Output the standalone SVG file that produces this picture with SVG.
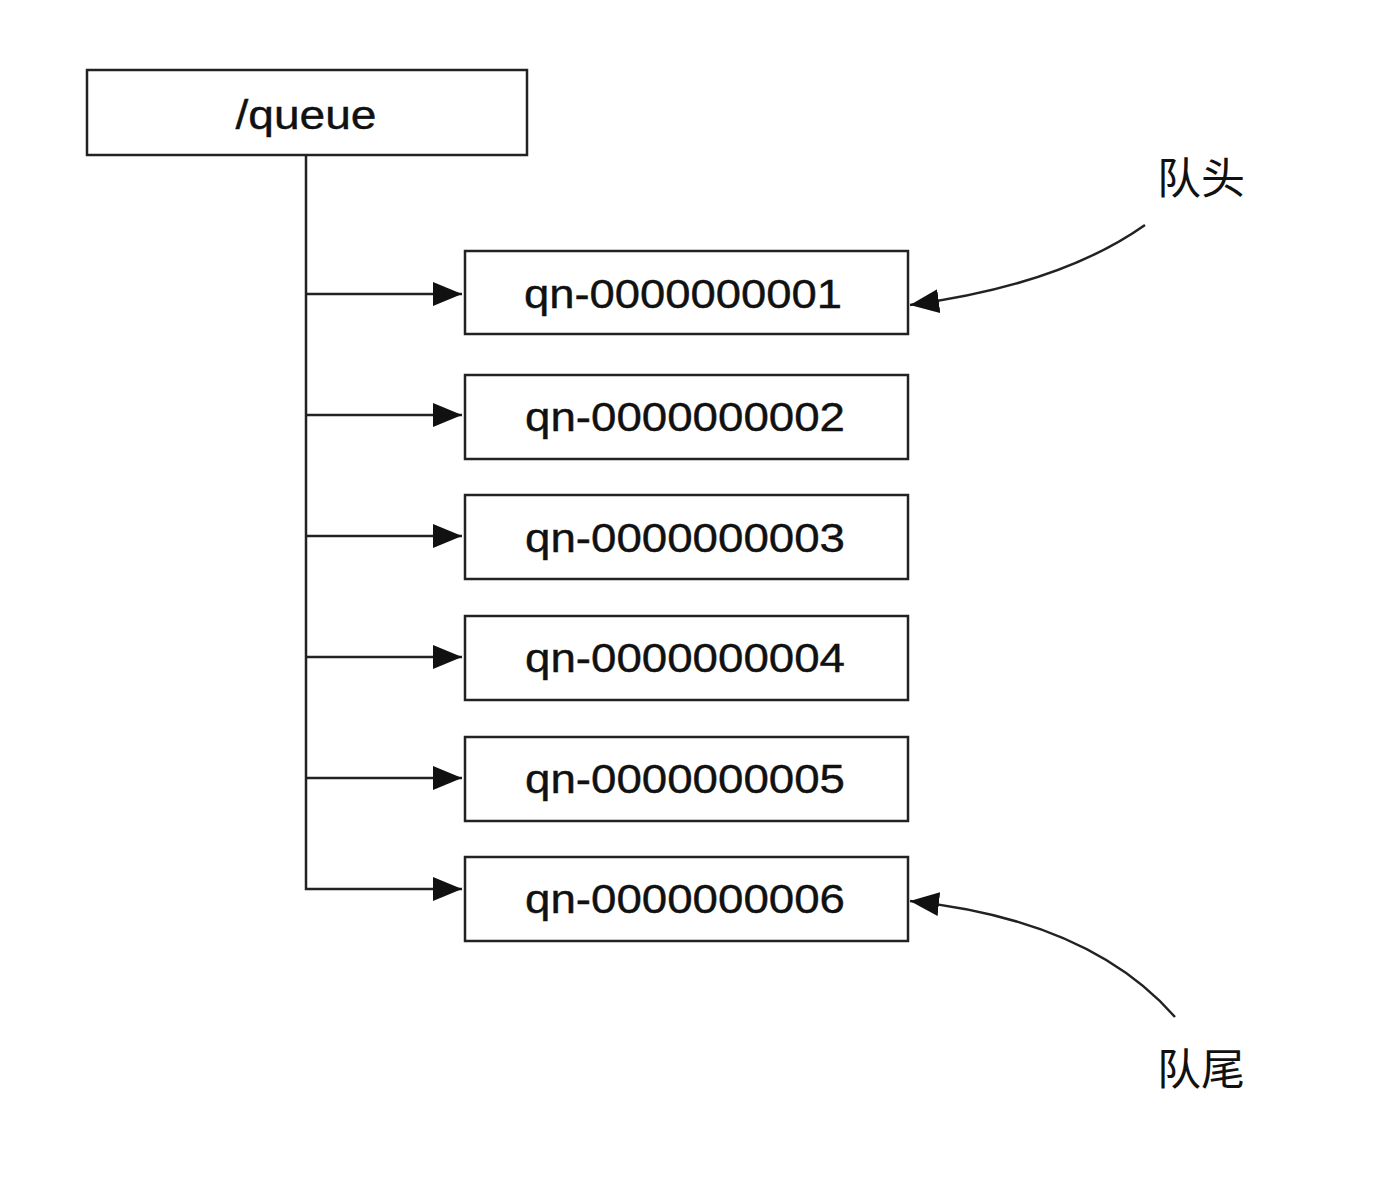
<svg xmlns="http://www.w3.org/2000/svg" width="1380" height="1180" viewBox="0 0 1380 1180">
  <style>
    .box { fill: #ffffff; stroke: #222222; stroke-width: 2.5; }
    .label { font-family: "Liberation Sans", Arial, sans-serif; font-size: 40px; fill: #111111; text-anchor: middle; stroke: #111111; stroke-width: 0.4; }
    .cjk { font-family: "Noto Sans CJK SC", "Liberation Sans", sans-serif; font-size: 43px; fill: #111111; }
    .wire { fill: none; stroke: #222222; stroke-width: 2.5; }
  </style>
  <defs>
    <marker id="arrow" viewBox="0 0 29 24" refX="29" refY="12" markerWidth="29" markerHeight="24" markerUnits="userSpaceOnUse" orient="auto">
      <path d="M0,0 L29,12 L0,24 Z" fill="#111111"/>
    </marker>
  </defs>
  <rect width="1380" height="1180" fill="#ffffff"/>

  <g id="queue">
    <rect class="box" x="87" y="70" width="440" height="85"/>
    <text class="label" x="306" y="129" textLength="141" lengthAdjust="spacingAndGlyphs">/queue</text>
  </g>

  <g id="qn1">
    <rect class="box" x="465" y="251" width="443" height="83"/>
    <text class="label" x="683" y="308" textLength="318" lengthAdjust="spacingAndGlyphs">qn-0000000001</text>
  </g>
  <g id="qn2">
    <rect class="box" x="465" y="375" width="443" height="84"/>
    <text class="label" x="685" y="431" textLength="320" lengthAdjust="spacingAndGlyphs">qn-0000000002</text>
  </g>
  <g id="qn3">
    <rect class="box" x="465" y="495" width="443" height="84"/>
    <text class="label" x="685" y="552" textLength="320" lengthAdjust="spacingAndGlyphs">qn-0000000003</text>
  </g>
  <g id="qn4">
    <rect class="box" x="465" y="616" width="443" height="84"/>
    <text class="label" x="685" y="672" textLength="320" lengthAdjust="spacingAndGlyphs">qn-0000000004</text>
  </g>
  <g id="qn5">
    <rect class="box" x="465" y="737" width="443" height="84"/>
    <text class="label" x="685" y="793" textLength="320" lengthAdjust="spacingAndGlyphs">qn-0000000005</text>
  </g>
  <g id="qn6">
    <rect class="box" x="465" y="857" width="443" height="84"/>
    <text class="label" x="685" y="913" textLength="320" lengthAdjust="spacingAndGlyphs">qn-0000000006</text>
  </g>

  <g id="head-label">
    <text class="cjk" x="1157" y="194" textLength="88" lengthAdjust="spacingAndGlyphs">队头</text>
  </g>
  <g id="tail-label">
    <text class="cjk" x="1157" y="1085" textLength="88" lengthAdjust="spacingAndGlyphs">队尾</text>
  </g>

  <g id="connectors">
    <path class="wire" d="M306,155 V889 H462" marker-end="url(#arrow)"/>
    <path class="wire" d="M306,294 H462" marker-end="url(#arrow)"/>
    <path class="wire" d="M306,415 H462" marker-end="url(#arrow)"/>
    <path class="wire" d="M306,536 H462" marker-end="url(#arrow)"/>
    <path class="wire" d="M306,657 H462" marker-end="url(#arrow)"/>
    <path class="wire" d="M306,778 H462" marker-end="url(#arrow)"/>
    <path class="wire" d="M1145,225 Q1060,285 910,305" marker-end="url(#arrow)"/>
    <path class="wire" d="M1175,1017 Q1090,920 910,901" marker-end="url(#arrow)"/>
  </g>
</svg>
